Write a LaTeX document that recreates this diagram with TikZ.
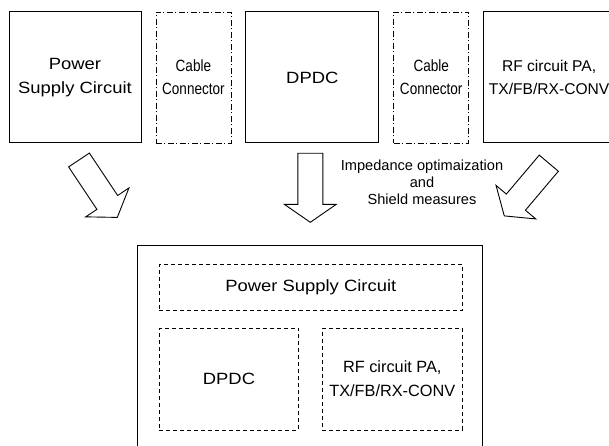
\documentclass[tikz,border=0pt]{standalone}
\usepackage{fontspec}
\setmainfont{Liberation Sans}
\newfontfamily\widesans[FakeStretch=1.13]{Liberation Sans}
\newfontfamily\narrowsans[FakeStretch=0.83]{Liberation Sans}
\usetikzlibrary{positioning}

\begin{document}
\begin{tikzpicture}[x=1pt, y=1pt, node distance=14pt, line join=miter]
    \tikzstyle{block} = [draw, line width=1pt, rectangle, minimum height=131pt, align=center, inner sep=0pt]
    \tikzstyle{conn} = [draw, line width=0.8pt, rectangle, minimum height=131pt, minimum width=75pt, align=center, inner sep=0pt,
                        dash pattern=on 6pt off 2.5pt on 1pt off 2.5pt, font=\narrowsans\fontsize{16.3}{22.7}\selectfont]
    \tikzstyle{part} = [draw, line width=0.8pt, rectangle, dash pattern=on 4pt off 3pt, align=center, inner sep=0pt]
    \tikzstyle{wide} = [font=\widesans\fontsize{16.3}{23.5}\selectfont]
    \tikzstyle{plain} = [font=\fontsize{16.3}{24}\selectfont]
    \tikzset{fatarrow/.pic={
        \draw[line width=0.9pt] (0,12.5) -- (51,12.5) -- (51,26) -- (69,0) -- (51,-26) -- (51,-12.5) -- (0,-12.5) -- cycle;
    }}

    \useasboundingbox (0,0) rectangle (609,445);

    % separate circuits
    \node [block, wide, minimum width=132pt] (psc) at (75,367.5) {Power\\Supply Circuit};
    \node [conn, right=of psc] (cab1) {Cable\\Connector};
    \node [block, wide, minimum width=133pt, right=of cab1] (dpdc) {DPDC};
    \node [conn, right=of dpdc] (cab2) {Cable\\Connector};
    \node [block, minimum width=131pt, right=of cab2, font=\fontsize{15.6}{23.3}\selectfont] (rf) {RF circuit PA,\\TX/FB/RX-CONV};

    % arrows
    \pic [rotate=-56.3] at (79,285) {fatarrow};
    \pic [rotate=-90] at (310.3,291.7) {fatarrow};
    \pic [rotate=-130.2] at (548.8,281.8) {fatarrow};
    \node [align=center, font=\fontsize{14.6}{17}\selectfont] (note) at (422,263)
        {Impedance optimaization\\and\\Shield measures};

    % integrated board
    \node [draw, line width=1pt, rectangle, minimum width=345.7pt, minimum height=260pt, anchor=north] (board) at (309.9,200) {};
    \node [part, wide, minimum width=303pt, minimum height=46.4pt] (bpsc) at (310.8,157.5) {Power Supply Circuit};
    \node [part, wide, minimum width=139.4pt, minimum height=101.7pt] (bdpdc) at (229,65.9) {DPDC};
    \node [part, plain, minimum width=140pt, minimum height=101.7pt] (brf) at (392.3,65.9) {RF circuit PA,\\TX/FB/RX-CONV};
\end{tikzpicture}
\end{document}
